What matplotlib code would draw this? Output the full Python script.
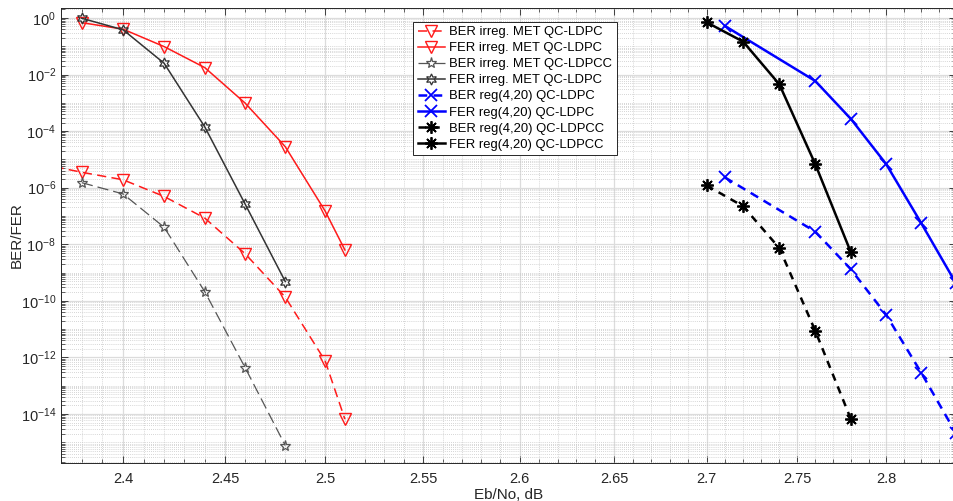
import matplotlib
matplotlib.use("Agg")
import matplotlib.pyplot as plt
import numpy as np
from matplotlib.ticker import LogLocator, MultipleLocator, FuncFormatter, NullFormatter

plt.rcParams['font.family'] = ['Liberation Sans', 'DejaVu Sans']
plt.rcParams['mathtext.fontset'] = 'custom'
plt.rcParams['mathtext.rm'] = 'Liberation Sans'

# irregular MET codes
ebno_ber_irreg_ldpc = [2.36, 2.38, 2.40, 2.42, 2.44, 2.46, 2.48, 2.50, 2.51]
ber_irreg_ldpc = [7e-6, 3.5e-6, 1.9e-6, 4.9e-7, 8.4e-8, 4.6e-9, 1.35e-10, 7.6e-13, 6.6e-15]
ebno_fer_irreg_ldpc = [2.38, 2.40, 2.42, 2.44, 2.46, 2.48, 2.50, 2.51]
fer_irreg_ldpc = [0.68, 0.40, 0.097, 0.0175, 9.7e-4, 2.8e-5, 1.5e-7, 6.3e-9]
ebno_irreg_ldpcc = [2.38, 2.40, 2.42, 2.44, 2.46, 2.48]
ber_irreg_ldpcc = [1.5e-6, 6e-7, 4e-8, 2.1e-10, 4.3e-13, 7.7e-16]
fer_irreg_ldpcc = [0.97, 0.38, 0.025, 1.4e-4, 2.6e-7, 4.8e-10]

# regular (4,20) codes
ebno_reg_ldpc = [2.71, 2.76, 2.78, 2.80, 2.82, 2.84]
ber_reg_ldpc = [2.3e-6, 2.8e-8, 1.3e-9, 3.2e-11, 2.9e-13, 2.1e-15]
fer_reg_ldpc = [0.52, 5.9e-3, 2.7e-4, 6.8e-6, 5.6e-8, 4.2e-10]
ebno_reg_ldpcc = [2.70, 2.72, 2.74, 2.76, 2.78]
ber_reg_ldpcc = [1.2e-6, 2.2e-7, 7.3e-9, 8.7e-12, 6.6e-15]
fer_reg_ldpcc = [0.7, 0.145, 4.5e-3, 6.8e-6, 5.2e-9]

labels = ['BER irreg. MET QC-LDPC', 'FER irreg. MET QC-LDPC',
          'BER irreg. MET QC-LDPCC', 'FER irreg. MET QC-LDPC',
          'BER reg(4,20) QC-LDPC', 'FER reg(4,20) QC-LDPC',
          'BER reg(4,20) QC-LDPCC', 'FER reg(4,20) QC-LDPCC']

# the source picture is slightly stretched along x, mimic it with a mild warp
X0, K = 2.6, 0.196

def warp(x):
    d = np.asarray(x, dtype=float) - X0
    return d - K * d ** 2

def unwarp(f):
    f = np.asarray(f, dtype=float)
    return X0 + (1 - np.sqrt(np.clip(1 - 4 * K * f, 0, None))) / (2 * K)

fig = plt.figure(figsize=(9.54, 5.01), dpi=100)
ax = fig.add_axes([0.064, 0.0765, 0.938, 0.9075])

red = '#ff1a1a'
ax.plot(ebno_ber_irreg_ldpc, ber_irreg_ldpc, color=red, lw=1.1, ls=(0, (6, 3.5)),
        marker='v', ms=9, mfc='none', mew=1.0, label=labels[0])
ax.plot(ebno_fer_irreg_ldpc, fer_irreg_ldpc, color=red, lw=1.1, ls='-',
        marker='v', ms=9, mfc='none', mew=1.0, label=labels[1])
ax.plot(ebno_irreg_ldpcc, ber_irreg_ldpcc, color='#555555', lw=0.9, ls=(0, (9, 4)),
        marker='*', ms=8, mfc='none', mew=0.9, label=labels[2])
ax.plot(ebno_irreg_ldpcc, fer_irreg_ldpcc, color='#333333', lw=1.1, ls='-',
        marker=(6, 1, 0), ms=8, mfc='none', mew=0.9, label=labels[3])
ax.plot(ebno_reg_ldpc, ber_reg_ldpc, color='#0000ff', lw=1.8, ls=(0, (3.5, 2.5)),
        marker='x', ms=8, mew=1.3, label=labels[4])
ax.plot(ebno_reg_ldpc, fer_reg_ldpc, color='#0000ff', lw=1.8, ls='-',
        marker='x', ms=8, mew=1.3, label=labels[5])
ax.plot(ebno_reg_ldpcc, ber_reg_ldpcc, color='black', lw=1.8, ls=(0, (3, 2.5)),
        marker=(8, 2, 0), ms=9, mew=1.3, label=labels[6])
ax.plot(ebno_reg_ldpcc, fer_reg_ldpcc, color='black', lw=1.8, ls='-',
        marker=(8, 2, 0), ms=9, mew=1.3, label=labels[7])

ax.set_xscale('function', functions=(warp, unwarp))
ax.set_yscale('log')
ax.set_xlim(2.37, 2.84)
ax.set_ylim(10**-15.72, 10**0.35)

ax.xaxis.set_major_locator(MultipleLocator(0.05))
ax.xaxis.set_minor_locator(MultipleLocator(0.01))
ax.xaxis.set_major_formatter(FuncFormatter(lambda v, p: '%g' % round(v, 3)))
ax.set_yticks([10.0 ** k for k in range(0, -15, -2)])
ax.yaxis.set_minor_locator(LogLocator(base=10, subs=np.arange(1, 10), numticks=100))
ax.yaxis.set_minor_formatter(NullFormatter())

ax.grid(True, which='major', color='#dcdcdc', lw=0.9, ls='-')
ax.grid(True, which='minor', color='#c8c8c8', lw=0.6, ls=(0, (1, 1.5)))
ax.set_axisbelow(True)

ax.tick_params(which='both', direction='in', top=True, right=True, colors='#262626',
               labelsize=10.5)
ax.tick_params(which='major', length=5, width=0.6)
ax.tick_params(which='minor', length=3, width=0.5)
ax.tick_params(axis='x', pad=7)
for s in ax.spines.values():
    s.set_color('#262626')
    s.set_linewidth(0.7)

ax.set_xlabel('Eb/No, dB', fontsize=11, color='#262626', labelpad=1)
ax.set_ylabel('BER/FER', fontsize=11, color='#262626')
ax.yaxis.set_label_coords(-0.042, 0.5)

leg = ax.legend(loc='upper left', bbox_to_anchor=(0.433, 0.957), bbox_transform=fig.transFigure,
                fontsize=9.4, frameon=True, fancybox=False, edgecolor='#262626',
                framealpha=1, borderpad=0.35, labelspacing=0.3, handlelength=2.1,
                handletextpad=0.3, borderaxespad=0)
leg.get_frame().set_linewidth(0.7)

fig.savefig('out.png', dpi=100)
